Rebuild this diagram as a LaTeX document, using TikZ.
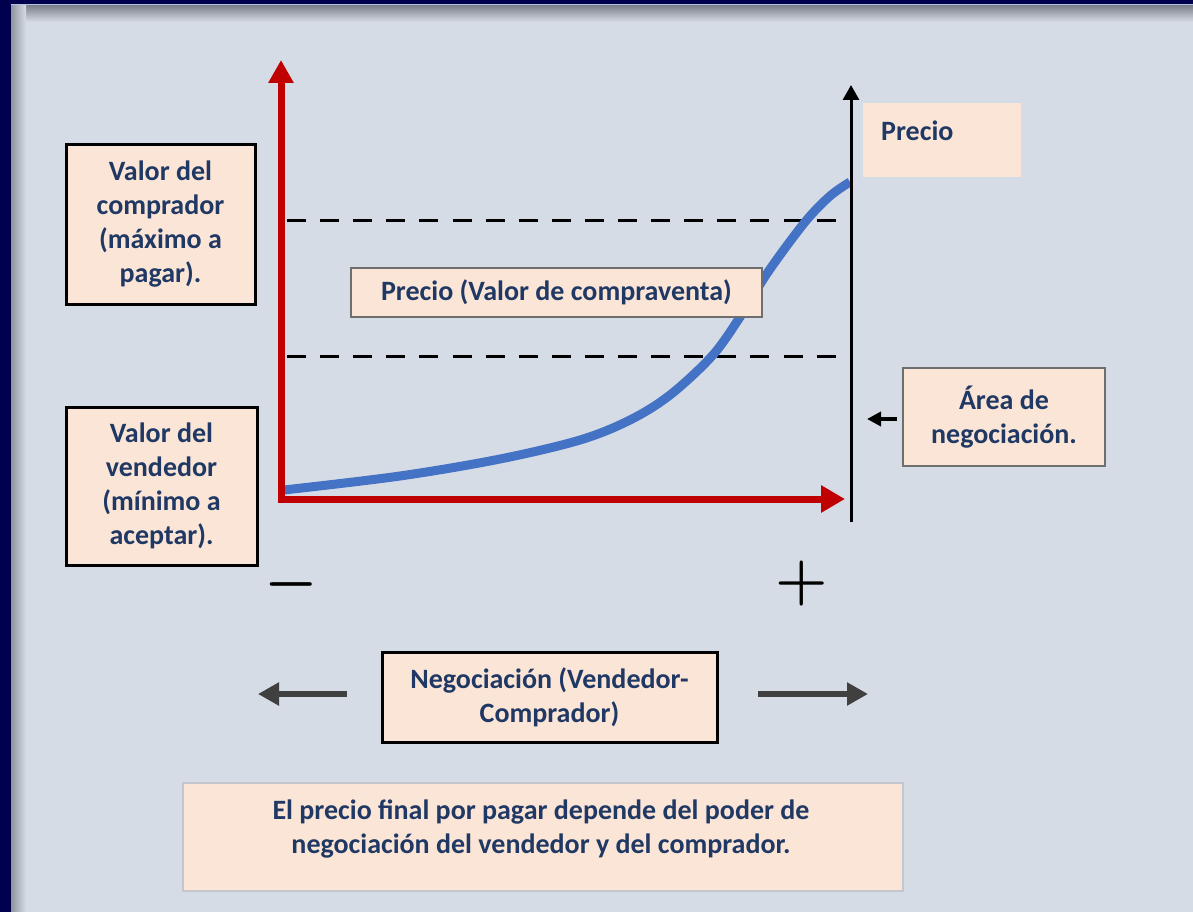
\documentclass[tikz,border=0pt]{standalone}
\usepackage{fix-cm}
\usepackage{fontspec}
\setmainfont{Carlito}
\usetikzlibrary{arrows.meta}
\definecolor{frame}{HTML}{00004F}
\definecolor{paper}{HTML}{D6DCE5}
\definecolor{peach}{HTML}{FBE5D6}
\definecolor{ink}{HTML}{1F3864}
\definecolor{axisred}{HTML}{C00000}
\definecolor{curveblue}{HTML}{4472C4}
\definecolor{arrowgray}{HTML}{404040}
\definecolor{rim}{HTML}{B4C2DD}
\definecolor{shadow}{HTML}{7E838C}
\definecolor{edgegray}{HTML}{6E6E6E}
\definecolor{palegray}{HTML}{C3C6CC}
\begin{document}
\begin{tikzpicture}[x=1pt,y=-1pt,
  txt/.style={font=\fontsize{28}{34}\selectfont\bfseries, text=ink, align=center},
  darkbox/.style={draw=black, line width=3pt, fill=peach, inner sep=0pt, txt},
  greybox/.style={draw=edgegray, line width=1.5pt, fill=peach, inner sep=0pt, txt},
  plainbox/.style={fill=peach, inner sep=0pt},
  dashline/.style={line width=3pt, dash pattern=on 19pt off 14.1pt},
  navarrow/.style={arrowgray, line width=6pt, -{Triangle[length=21pt, width=22pt]}},
  bigsign/.style={font=\fontsize{60}{60}\selectfont\boldmath, inner sep=0pt}]
\useasboundingbox (0,0) rectangle (1193,912);

% window frame with inner shadow
\fill[frame] (0,0) rectangle (1193,912);
\fill[paper] (11,4) rectangle (1193,912);
\fill[rim] (11,4) rectangle (1193,6);
\shade[top color=shadow, bottom color=paper] (11,6) rectangle (1193,22);
\shade[left color=shadow!80!paper, right color=paper] (11,6) rectangle (26,912);

% key points of the chart
\coordinate (ytip) at (281,60);
\coordinate (origin) at (281,499);
\coordinate (xtip) at (845,499);
\coordinate (pbase) at (851,522);
\coordinate (ptip) at (851,85);
\coordinate (hiL) at (287,220);
\coordinate (hiR) at (836,220);
\coordinate (loL) at (287,356);
\coordinate (loR) at (836,356);

% dashed bounds of the negotiation area
\draw[dashline] (hiL) -- (hiR);
\draw[dashline] (loL) -- (loR);

% price curve
\draw[curveblue, line width=9pt] plot[smooth, tension=0.55] coordinates
  {(284,490) (400,476) (500,459) (580,440) (630,420) (670,395) (712,356)
   (740,317) (768,272) (805,222) (830,196) (850,182)};

% red axes
\draw[axisred, line width=7pt, line join=miter,
  {Triangle[length=23pt, width=24pt]}-{Triangle[length=24pt, width=26pt]}]
  (ytip) -- (origin) -- (xtip);

% price axis
\draw[black, line width=3pt, -{Triangle[length=15pt, width=16pt]}] (pbase) -- (ptip);

% boxes
\node[darkbox, minimum width=189pt, minimum height=159pt] (buyer) at (160.5,224.5)
  {Valor del\\comprador\\(máximo a\\pagar).};
\node[darkbox, minimum width=191pt, minimum height=158pt] (seller) at (161.5,486)
  {Valor del\\vendedor\\(mínimo a\\aceptar).};
\node[greybox, minimum width=411pt, minimum height=49pt] (deal) at (556.5,292.5)
  {Precio (Valor de compraventa)};
\node[plainbox, minimum width=158pt, minimum height=74pt, anchor=north west] (pricebox) at (863,103) {};
\node[txt, anchor=west, inner sep=0pt] (pricelabel) at (881,131) {Precio};
\node[greybox, minimum width=202pt, minimum height=98pt] (zone) at (1004,417)
  {Área de\\negociación.};
\node[darkbox, minimum width=335pt, minimum height=90pt] (nego) at (549.5,697)
  {Negociación (Vendedor-\\Comprador)};
\node[plainbox, draw=palegray, line width=2pt, minimum width=720pt, minimum height=108pt] (note) at (543,837) {};
\node[txt, inner sep=0pt] (notetext) at (541,829)
  {El precio final por pagar depende del poder de\\negociación del vendedor y del comprador.};

% small pointer towards the price axis
\coordinate (zonetail) at (897,419);
\coordinate (zonehead) at (867,419);
\draw[black, line width=4pt, -{Triangle[length=14pt, width=14pt]}] (zonetail) -- (zonehead);

% direction arrows beside the negotiation box
\coordinate (leftend) at (258,694);
\coordinate (rightend) at (868,694);
\draw[navarrow] ([xshift=-34pt]nego.west |- leftend) -- (leftend);
\draw[navarrow] ([xshift=39pt]nego.east |- rightend) -- (rightend);

% ends of the horizontal axis
\node[bigsign] (minus) at (291,584) {$-$};
\node[bigsign] (plus) at (802,583) {$+$};
\end{tikzpicture}
\end{document}
